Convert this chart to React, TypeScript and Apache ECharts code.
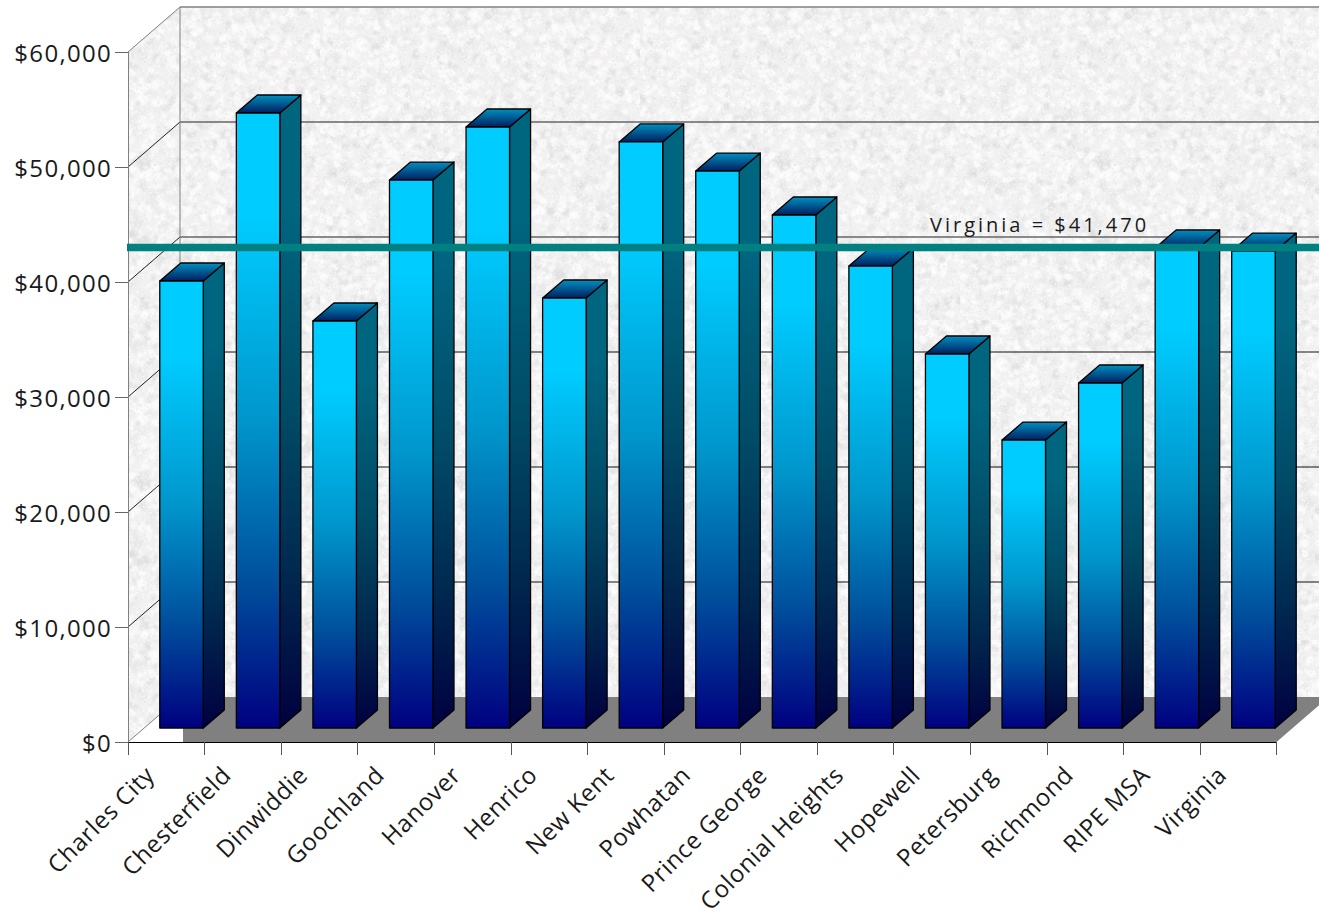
import React, { useEffect, useRef } from "react";
import * as echarts from "echarts";

const categories = ["Charles City", "Chesterfield", "Dinwiddie", "Goochland", "Hanover", "Henrico", "New Kent", "Powhatan", "Prince George", "Colonial Heights", "Hopewell", "Petersburg", "Richmond", "RIPE MSA", "Virginia"];
const incomes = [38870, 53480, 35390, 47650, 52260, 37390, 50960, 48430, 44610, 40170, 32520, 25040, 30000, 41740, 41470];
const yTicks = [0, 10000, 20000, 30000, 40000, 50000, 60000];
const virginiaValue = 41470;
const virginiaLabel = "Virginia = $41,470";

// 3D projection of the original chart, in pixels
const WALL_DX = 52;
const WALL_DY = 45;
const BAR_LIFT = 14;
const BAR_SHIFT = -6.5;
const BAR_W = 43.5;
const SIDE_DX = 21;
const SIDE_DY = 18;
const LINE_LIFT = 17.5;

function makeTexture(): HTMLCanvasElement {
  const size = 320;
  const c = document.createElement("canvas");
  c.width = size;
  c.height = size;
  const g = c.getContext("2d") as CanvasRenderingContext2D;
  g.fillStyle = "#f1f1f1";
  g.fillRect(0, 0, size, size);
  let s = 12345;
  const next = () => {
    s = (s * 1103515245 + 12345) & 0x7fffffff;
    return s / 0x7fffffff;
  };
  g.filter = "blur(1.1px)";
  for (let i = 0; i < 3000; i++) {
    const x = next() * size;
    const y = next() * size;
    const w = 1.2 + next() * 3;
    const h = 1.2 + next() * 4;
    const d = next();
    g.fillStyle =
      d < 0.55 ? "rgba(252,252,252,0.8)" : d < 0.85 ? "rgba(232,232,232,0.75)" : d < 0.96 ? "rgba(220,220,220,0.7)" : "rgba(243,236,238,0.7)";
    g.beginPath();
    g.ellipse(x, y, w, h, next() * 3, 0, Math.PI * 2);
    g.fill();
  }
  g.filter = "none";
  for (let i = 0; i < 9000; i++) {
    const x = next() * size;
    const y = next() * size;
    g.fillStyle = next() < 0.6 ? "rgba(255,255,255,0.55)" : "rgba(222,222,222,0.4)";
    g.fillRect(x, y, 1.5, 1.5);
  }
  return c;
}

export default function App() {
  const ref = useRef<HTMLDivElement>(null);
  useEffect(() => {
    document.body.style.margin = "0";
    const chart = echarts.init(ref.current as HTMLDivElement, undefined, { renderer: "svg" });
    const texture = { image: makeTexture(), repeat: "repeat" };
    const RIGHT_EDGE = 1330;

    const front = new echarts.graphic.LinearGradient(0, 0, 0, 1, [
      { offset: 0, color: "#00CCFF" },
      { offset: 0.17, color: "#00CCFF" },
      { offset: 0.5, color: "#0096CC" },
      { offset: 0.76, color: "#00509C" },
      { offset: 1, color: "#000080" },
    ]);
    const side = new echarts.graphic.LinearGradient(0, 0, 0, 1, [
      { offset: 0, color: "#006680" },
      { offset: 0.17, color: "#006680" },
      { offset: 0.5, color: "#004B66" },
      { offset: 0.76, color: "#00284E" },
      { offset: 1, color: "#000040" },
    ]);
    const roof = new echarts.graphic.LinearGradient(0, 0, 0, 1, [
      { offset: 0, color: "#0090C0" },
      { offset: 1, color: "#001F60" },
    ]);

    const renderWalls = (_: any, api: any) => {
      const x0 = api.coord([0, 0])[0] - api.size([1, 0])[0] / 2;
      const y0 = api.coord([0, 0])[1];
      const yTop = api.coord([0, 60000])[1];
      const xEnd = x0 + api.size([1, 0])[0] * categories.length;
      const children: any[] = [
        { type: "polygon", shape: { points: [[x0 + WALL_DX, yTop - WALL_DY], [RIGHT_EDGE, yTop - WALL_DY], [RIGHT_EDGE, y0 - WALL_DY], [x0 + WALL_DX, y0 - WALL_DY]] }, style: { fill: texture } },
        { type: "polygon", shape: { points: [[x0, y0], [x0 + WALL_DX, y0 - WALL_DY], [x0 + WALL_DX, yTop - WALL_DY], [x0, yTop]] }, style: { fill: texture } },
        { type: "polygon", shape: { points: [[x0 + 55, y0], [xEnd, y0], [xEnd + WALL_DX, y0 - WALL_DY], [x0 + 55, y0 - WALL_DY]] }, style: { fill: "#808080" } },
      ];
      yTicks.forEach((t) => {
        const y = api.coord([0, t])[1];
        const edge = t === 0 || t === 60000;
        const greyBack = t >= 40000;
        if (t !== 0) {
          children.push({ type: "line", shape: { x1: x0 + WALL_DX, y1: y - WALL_DY, x2: RIGHT_EDGE, y2: y - WALL_DY }, style: { stroke: edge ? "#808080" : greyBack ? "#666666" : "#111111", lineWidth: greyBack ? 1.4 : 1 } });
        }
        children.push({ type: "line", shape: { x1: x0, y1: y, x2: x0 + WALL_DX, y2: y - WALL_DY }, style: { stroke: edge ? "#808080" : "#222222", lineWidth: 1 } });
      });
      children.push({ type: "line", shape: { x1: x0 + WALL_DX, y1: yTop - WALL_DY, x2: x0 + WALL_DX, y2: y0 - WALL_DY }, style: { stroke: "#808080", lineWidth: 1 } });
      return { type: "group", children };
    };

    const renderBar = (_: any, api: any) => {
      const cx = api.coord([api.value(0), 0])[0];
      const base = api.coord([api.value(0), 0])[1] - BAR_LIFT;
      const top = api.coord([api.value(0), api.value(1)])[1] - BAR_LIFT;
      const l = cx + BAR_SHIFT;
      const r = l + BAR_W;
      const ink = { stroke: "#000000", lineWidth: 1.3, lineJoin: "round" };
      return {
        type: "group",
        children: [
          { type: "polygon", shape: { points: [[r, top], [r + SIDE_DX, top - SIDE_DY], [r + SIDE_DX, base - SIDE_DY], [r, base]] }, style: { fill: side, ...ink } },
          { type: "polygon", shape: { points: [[l, top], [l + SIDE_DX, top - SIDE_DY], [r + SIDE_DX, top - SIDE_DY], [r, top]] }, style: { fill: roof, ...ink } },
          { type: "rect", shape: { x: l, y: top, width: BAR_W, height: base - top }, style: { fill: front, ...ink } },
        ],
      };
    };

    const renderLine = (_: any, api: any) => {
      const x0 = api.coord([0, 0])[0] - api.size([1, 0])[0] / 2;
      const y = api.coord([0, api.value(0)])[1] - LINE_LIFT;
      return {
        type: "group",
        children: [
          { type: "line", shape: { x1: x0 - 1, y1: y, x2: RIGHT_EDGE, y2: y }, style: { stroke: "#008080", lineWidth: 7.5 } },
          { type: "text", style: { x: 930, y: y - 23, text: virginiaLabel, fill: "#1a1a1a", font: '20px "Open Sans"', textAlign: "left", textVerticalAlign: "middle" } },
        ],
      };
    };

    chart.setOption({
      animation: false,
      backgroundColor: "#ffffff",
      grid: { left: 128, right: 42.5, top: 52, bottom: 170, containLabel: false, outerBoundsMode: "none" },
      xAxis: {
        type: "category",
        data: categories,
        z: 3,
        axisLine: { show: true, lineStyle: { color: "#000000", width: 1 } },
        axisTick: { show: true, length: 13, lineStyle: { color: "#555555", width: 1 } },
        axisLabel: { interval: 0, rotate: 45, margin: 11, fontSize: 24, color: "#1a1a1a", fontFamily: "Open Sans", padding: [0, 24, 0, 0] },
      },
      yAxis: {
        type: "value",
        min: 0,
        max: 60000,
        interval: 10000,
        z: 3,
        axisLine: { show: true, lineStyle: { color: "#808080", width: 1 } },
        axisTick: { show: true, length: 13, lineStyle: { color: "#666666", width: 1 } },
        splitLine: { show: false },
        axisLabel: {
          margin: 16,
          fontSize: 24,
          color: "#1a1a1a",
          fontFamily: "Open Sans",
          formatter: (v: number) => "$" + v.toLocaleString("en-US"),
        },
      },
      series: [
        { type: "custom", z: 1, silent: true, clip: false, data: [[0, 0]], encode: { x: 0, y: 1 }, renderItem: renderWalls },
        { type: "custom", z: 4, clip: false, data: incomes.map((v, i) => [i, v]), encode: { x: 0, y: 1 }, renderItem: renderBar },
        { type: "custom", z: 5, silent: true, clip: false, data: [[virginiaValue]], encode: { y: 0 }, renderItem: renderLine },
      ],
    });

    ref.current?.querySelectorAll("text").forEach((t) => {
      const s = t.textContent || "";
      if (s === virginiaLabel) t.style.letterSpacing = "3px";
      else if (s.startsWith("$")) t.style.letterSpacing = "1.3px";
      else t.style.letterSpacing = "0.6px";
    });
    return () => chart.dispose();
  }, []);
  return <div ref={ref} style={{ width: 1319, height: 912 }} />;
}
